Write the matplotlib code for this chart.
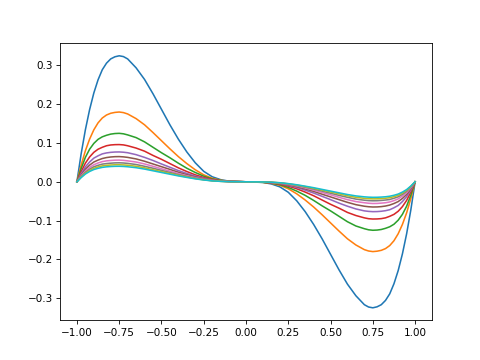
import matplotlib
matplotlib.use("Agg")
import matplotlib.pyplot as plt

# left half of the curves (x from -1 to 0);
# the right half is the same reading mirrored (the curves are odd)
x_left = [-1.0, -0.975, -0.95, -0.925, -0.9, -0.875, -0.85, -0.825, -0.8, -0.775,
          -0.75, -0.725, -0.7, -0.65, -0.6, -0.55, -0.5, -0.45, -0.4, -0.35,
          -0.3, -0.25, -0.2, -0.15, -0.1, 0.0]

c1 = [0, 0.072, 0.134, 0.186, 0.229, 0.263, 0.289, 0.306, 0.317, 0.3225,
      0.325, 0.323, 0.317, 0.294, 0.264, 0.227, 0.187, 0.147, 0.110, 0.077,
      0.049, 0.027, 0.013, 0.0055, 0.0016, 0]
c2 = [0, 0.043, 0.080, 0.110, 0.134, 0.152, 0.1645, 0.1723, 0.1768, 0.179,
      0.180, 0.1785, 0.175, 0.163, 0.147, 0.127, 0.106, 0.085, 0.065, 0.047,
      0.031, 0.018, 0.009, 0.004, 0.0014, 0]
c3 = [0, 0.034, 0.063, 0.084, 0.099, 0.1095, 0.116, 0.120, 0.123, 0.1245,
      0.125, 0.1238, 0.121, 0.114, 0.103, 0.089, 0.075, 0.062, 0.048, 0.035,
      0.024, 0.0145, 0.0075, 0.0033, 0.0013, 0]
c4 = [0, 0.026, 0.048, 0.064, 0.076, 0.084, 0.089, 0.093, 0.095, 0.0958,
      0.096, 0.0952, 0.093, 0.087, 0.079, 0.068, 0.058, 0.047, 0.036, 0.0265,
      0.018, 0.011, 0.006, 0.0027, 0.001, 0]
c5 = [0, 0.021, 0.0385, 0.051, 0.061, 0.067, 0.072, 0.0745, 0.076, 0.0768,
      0.077, 0.0763, 0.075, 0.070, 0.063, 0.055, 0.046, 0.0375, 0.029, 0.0215,
      0.0146, 0.0089, 0.0046, 0.0021, 0.0008, 0]
c6 = [0, 0.0175, 0.0325, 0.043, 0.051, 0.056, 0.060, 0.0625, 0.064, 0.0648,
      0.065, 0.0643, 0.063, 0.059, 0.053, 0.046, 0.039, 0.032, 0.0247, 0.0183,
      0.0124, 0.0076, 0.0039, 0.0018, 0.0007, 0]
c7 = [0, 0.015, 0.028, 0.037, 0.044, 0.0485, 0.052, 0.054, 0.055, 0.0558,
      0.056, 0.0553, 0.054, 0.051, 0.046, 0.040, 0.0336, 0.0275, 0.0213, 0.0158,
      0.0106, 0.0065, 0.0034, 0.0016, 0.0006, 0]
c8 = [0, 0.0132, 0.0245, 0.0325, 0.0387, 0.0425, 0.0456, 0.047, 0.048, 0.0488,
      0.049, 0.0485, 0.0475, 0.0446, 0.040, 0.035, 0.0294, 0.024, 0.0186, 0.0138,
      0.0093, 0.0057, 0.0029, 0.0014, 0.0005, 0]
c9 = [0, 0.0119, 0.022, 0.0292, 0.0348, 0.0383, 0.041, 0.0424, 0.0433, 0.0439,
      0.044, 0.0435, 0.0427, 0.040, 0.036, 0.031, 0.0264, 0.0216, 0.0167, 0.0124,
      0.0084, 0.0051, 0.0026, 0.0012, 0.0004, 0]
c10 = [0, 0.0108, 0.020, 0.0266, 0.0316, 0.0348, 0.0372, 0.0386, 0.0394, 0.0399,
       0.040, 0.0396, 0.0388, 0.0364, 0.0328, 0.0284, 0.024, 0.0196, 0.0152, 0.0113,
       0.0076, 0.0047, 0.0024, 0.0011, 0.0004, 0]

curves = [c1, c2, c3, c4, c5, c6, c7, c8, c9, c10]

x = x_left + [-v for v in reversed(x_left[:-1])]

fig, ax = plt.subplots(figsize=(6.4, 4.8), dpi=75)
for c in curves:
    y = c + [-v for v in reversed(c[:-1])]
    ax.plot(x, y)

fig.savefig("out.png")
